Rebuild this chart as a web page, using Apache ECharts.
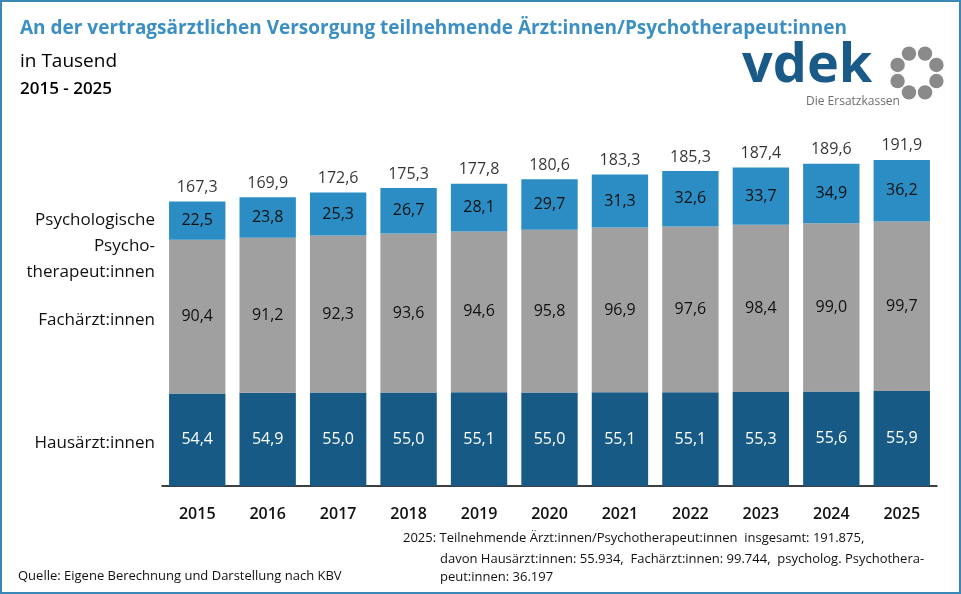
<!DOCTYPE html>
<html>
<head>
<meta charset="utf-8">
<script src="https://cdn.jsdelivr.net/npm/echarts@6/dist/echarts.min.js"></script>
<style>
  html, body { margin: 0; padding: 0; background: #fff; }
  #chart { width: 961px; height: 594px; }
</style>
</head>
<body>
<div id="chart"></div>
<script>
var years = ['2015', '2016', '2017', '2018', '2019', '2020', '2021', '2022', '2023', '2024', '2025'];
var hausaerzte = [54.4, 54.9, 55.0, 55.0, 55.1, 55.0, 55.1, 55.1, 55.3, 55.6, 55.9];
var fachaerzte = [90.4, 91.2, 92.3, 93.6, 94.6, 95.8, 96.9, 97.6, 98.4, 99.0, 99.7];
var psychotherapeuten = [22.5, 23.8, 25.3, 26.7, 28.1, 29.7, 31.3, 32.6, 33.7, 34.9, 36.2];
var insgesamt = [167.3, 169.9, 172.6, 175.3, 177.8, 180.6, 183.3, 185.3, 187.4, 189.6, 191.9];

var font = 'Open Sans';
function komma(v) { return v.toFixed(1).replace('.', ','); }

var chart = echarts.init(document.getElementById('chart'));

// blobs of the logo ring
var ring = [];
for (var i = 0; i < 8; i++) {
    var a = (22.5 + i * 45) * Math.PI / 180;
    ring.push({
        type: 'circle',
        shape: { cx: 917 + 21 * Math.cos(a), cy: 73 + 21 * Math.sin(a), r: 7.2 },
        style: { fill: '#8a8a8a' }
    });
}

var option = {
    animation: false,
    textStyle: { fontFamily: font },
    grid: { left: 162, right: 24, top: 146, bottom: 108 },
    xAxis: {
        type: 'category',
        data: years,
        axisLine: { lineStyle: { color: '#000', width: 1.5 } },
        axisTick: { length: 7, lineStyle: { color: '#000', width: 1.5 } },
        axisLabel: { color: '#111', fontSize: 16, fontWeight: 600, margin: 20, fontFamily: font }
    },
    yAxis: { type: 'value', min: 0, max: 200, show: false },
    series: [
        {
            name: 'Hausärzt:innen', type: 'bar', stack: 'a', data: hausaerzte,
            barCategoryGap: '20%',
            itemStyle: { color: '#175a86' },
            label: { show: true, position: 'inside', color: '#fff', fontSize: 16, fontFamily: font,
                     formatter: function (p) { return komma(p.value); } }
        },
        {
            name: 'Fachärzt:innen', type: 'bar', stack: 'a', data: fachaerzte,
            itemStyle: { color: '#a0a0a0' },
            label: { show: true, position: 'inside', color: '#111', fontSize: 16, fontFamily: font,
                     formatter: function (p) { return komma(p.value); } }
        },
        {
            name: 'Psychologische Psychotherapeut:innen', type: 'bar', stack: 'a', data: psychotherapeuten,
            itemStyle: { color: '#2b8dc3' },
            label: { show: true, position: 'inside', color: '#111', fontSize: 16, fontFamily: font,
                     formatter: function (p) { return komma(p.value); } }
        },
        {
            name: 'insgesamt', type: 'scatter', data: insgesamt, symbolSize: 0,
            label: { show: true, position: 'top', distance: 6, color: '#000', fontSize: 16, fontFamily: font,
                     formatter: function (p) { return komma(p.value); } }
        }
    ],
    graphic: [
        { type: 'rect', shape: { x: 1, y: 1, width: 959, height: 592 }, style: { fill: 'none', stroke: '#3a88b8', lineWidth: 2 } },
        { type: 'text', left: 20, top: 19, style: { text: 'An der vertragsärztlichen Versorgung teilnehmende Ärzt:innen/Psychotherapeut:innen', fill: '#3b8fc2', font: 'bold 19px "' + font + '"' } },
        { type: 'text', left: 20, top: 52, style: { text: 'in Tausend', fill: '#000', font: '19px "' + font + '"' } },
        { type: 'text', left: 20, top: 81, style: { text: '2015 - 2025', fill: '#000', font: '600 17px "' + font + '"' } },
        // logo
        { type: 'text', left: 742, top: 40, style: { text: 'vdek', fill: '#1a5a88', font: 'bold 54px "' + font + '"' } },
        { type: 'text', left: 806, top: 96, style: { text: 'Die Ersatzkassen', fill: '#6e6e6e', font: '12px "' + font + '"' } },
        { type: 'group', children: ring },
        // category labels on the left
        { type: 'text', x: 155, y: 207, style: { text: 'Psychologische\nPsycho-\ntherapeut:innen', fill: '#111', font: '17px "' + font + '"', align: 'right', lineHeight: 26 } },
        { type: 'text', x: 155, y: 312, style: { text: 'Fachärzt:innen', fill: '#111', font: '17px "' + font + '"', align: 'right' } },
        { type: 'text', x: 155, y: 435, style: { text: 'Hausärzt:innen', fill: '#111', font: '17px "' + font + '"', align: 'right' } },
        // notes
        { type: 'text', left: 403, top: 532, style: { text: '2025: Teilnehmende Ärzt:innen/Psychotherapeut:innen  insgesamt: 191.875,', fill: '#111', font: '13px "' + font + '"' } },
        { type: 'text', left: 440, top: 550, style: { text: 'davon Hausärzt:innen: 55.934,  Fachärzt:innen: 99.744,  psycholog. Psychothera-\npeut:innen: 36.197', fill: '#111', font: '13px "' + font + '"', lineHeight: 18 } },
        { type: 'text', left: 18, top: 570, style: { text: 'Quelle: Eigene Berechnung und Darstellung nach KBV', fill: '#111', font: '13px "' + font + '"' } }
    ]
};

chart.setOption(option);
</script>
</body>
</html>
